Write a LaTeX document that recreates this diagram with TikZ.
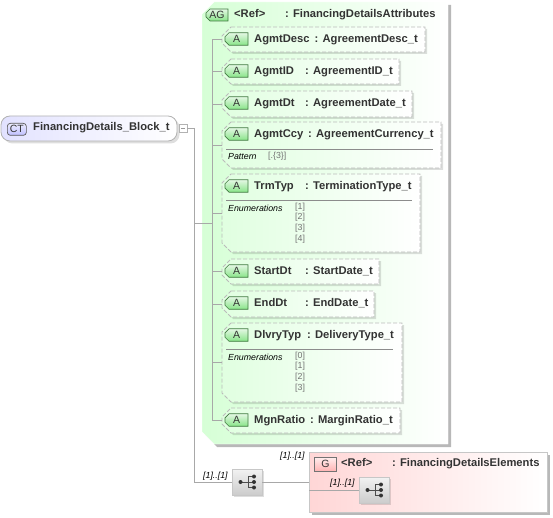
\documentclass[tikz,border=0pt]{standalone}
\usepackage{fontspec}
\setmainfont{Liberation Sans}
\usetikzlibrary{shadows}
\definecolor{txt}{HTML}{333333}
\definecolor{lnk}{HTML}{A8A8A8}
\definecolor{dashc}{HTML}{BBBBBB}
\definecolor{grn}{HTML}{D6FFD6}
\definecolor{bdgA}{HTML}{E4F8E4}
\definecolor{bdgB}{HTML}{88E488}
\definecolor{lav}{HTML}{E2E2FF}
\definecolor{pink}{HTML}{FFD6D6}
\newdimen\lch
\makeatletter
\pgfdeclareshape{lchamfer}{
  \inheritsavedanchors[from=rectangle]
  \inheritanchorborder[from=rectangle]
  \inheritanchor[from=rectangle]{center}
  \inheritanchor[from=rectangle]{text}
  \inheritanchor[from=rectangle]{base}
  \inheritanchor[from=rectangle]{north}
  \inheritanchor[from=rectangle]{south}
  \inheritanchor[from=rectangle]{east}
  \inheritanchor[from=rectangle]{west}
  \inheritanchor[from=rectangle]{north west}
  \inheritanchor[from=rectangle]{north east}
  \inheritanchor[from=rectangle]{south west}
  \inheritanchor[from=rectangle]{south east}
  \backgroundpath{
    \lch=\lchsize\relax
    \southwest \pgf@xa=\pgf@x \pgf@ya=\pgf@y
    \northeast \pgf@xb=\pgf@x \pgf@yb=\pgf@y
    \pgfpathmoveto{\pgfqpoint{\dimexpr\pgf@xa+\lch\relax}{\pgf@yb}}
    \pgfpathlineto{\pgfqpoint{\pgf@xb}{\pgf@yb}}
    \pgfpathlineto{\pgfqpoint{\pgf@xb}{\pgf@ya}}
    \pgfpathlineto{\pgfqpoint{\dimexpr\pgf@xa+\lch\relax}{\pgf@ya}}
    \pgfpathlineto{\pgfqpoint{\pgf@xa}{\dimexpr\pgf@ya+\lch\relax}}
    \pgfpathlineto{\pgfqpoint{\pgf@xa}{\dimexpr\pgf@yb-\lch\relax}}
    \pgfpathclose
  }
}
\makeatother
\def\lchsize{4pt}
\tikzset{
  chamfer size/.store in=\lchsize,
  conn/.style={draw=lnk,line width=.7pt},
  softshadow/.style={general shadow={shadow xshift=#1,shadow yshift=-#1,fill=black,opacity=.28}},
  faintshadow/.style={general shadow={shadow xshift=#1,shadow yshift=-#1,fill=black,opacity=.13}},
  groupbox/.style={lchamfer,chamfer size=12pt,inner sep=0pt,outer sep=0pt,anchor=north west,draw=white,left color=grn,right color=white,softshadow=3pt},
  attrbox/.style={lchamfer,chamfer size=9pt,inner sep=0pt,outer sep=0pt,anchor=north west,draw=dashc,dash pattern=on 4pt off 2pt,line width=.8pt,left color=grn!75!white,right color=white,faintshadow=2pt},
  abadge/.style={lchamfer,chamfer size=4pt,inner sep=0pt,outer sep=0pt,anchor=north west,draw=green!30!black!75,line width=.7pt,top color=bdgA,bottom color=bdgB,minimum width=23pt,minimum height=12.5pt,font=\fontsize{10.5}{10}\selectfont,text=txt},
  seqbox/.style={anchor=north west,rectangle,inner sep=0pt,outer sep=0pt,minimum width=30pt,minimum height=26pt,draw=black!22,top color=black!5,bottom color=black!20,faintshadow=1.5pt},
  nm/.style={anchor=base west,inner sep=0pt,text=txt,font=\fontsize{11.2}{12}\selectfont\bfseries},
  lbl/.style={anchor=west,inner sep=0pt,text=black,font=\fontsize{8.8}{9}\selectfont\itshape},
  val/.style={anchor=west,inner sep=0pt,text=black!55,font=\fontsize{8.8}{9}\selectfont},
  rule/.style={draw=black!45,line width=.6pt},
}
\newcommand{\seqglyph}[1]{%
  \begin{scope}[shift={(#1.center)}]
    \draw[black!70,line width=.8pt] (-7,0) -- (1,0) (1,-5.5) -- (1,5.5) (1,-5.5) -- (7,-5.5) (1,0) -- (7,0) (1,5.5) -- (7,5.5);
    \fill[black!80] (-6.5,0) circle (2pt) (7,-5.5) circle (2pt) (7,0) circle (2pt) (7,5.5) circle (2pt);
  \end{scope}}
\newcommand{\attr}[7]{% id, right, top, bottom, name, colon x, type
  \node[attrbox,minimum width={(#2-222)*1pt},minimum height={(#4-#3)*1pt}] (#1) at (222,#3) {};
  \node[abadge] (#1b) at (225,#3+5.75) {A};
  \node[nm] (#1n) at (254,#3+15.5) {#5};
  \node[nm] (#1t) at (#6,#3+15.5) {: #7};
}
\begin{document}
\begin{tikzpicture}[x=1pt,y=-1pt]
\useasboundingbox (0,0) rectangle (553,518);
% complex type
\node[anchor=north west,rectangle,rounded corners=9pt,minimum width=176pt,minimum height=25pt,inner sep=0pt,outer sep=0pt,draw=black!30,line width=.8pt,left color=lav,right color=white,faintshadow=2.5pt] (ct) at (1,116) {};
\node[anchor=north west,rectangle,rounded corners=3pt,draw=black!65,line width=.7pt,top color=blue!7,bottom color=blue!25,minimum width=19pt,minimum height=12pt,inner sep=0pt,font=\fontsize{10.5}{10}\selectfont,text=txt] (ctb) at (7,123) {CT};
\node[nm] (ctn) at (33,131) {FinancingDetails\_Block\_t};
\node[anchor=north west,draw=black!30,fill=white,minimum width=8pt,minimum height=8pt,inner sep=0pt,outer sep=0pt,line width=.6pt] (minus) at (179,124) {};
\draw[black!40,line width=.6pt] ([xshift=-2pt]minus.center) -- ([xshift=2pt]minus.center);
\coordinate (trunk) at (194,128);
% group
\node[groupbox,minimum width=246pt,minimum height=442pt] (ag) at (202,2) {};
\node[abadge,minimum width=22pt,minimum height=12pt] (agb) at (206,9) {AG};
\node[nm] (agn) at (234,17.3) {<Ref>};
\node[nm] (agt) at (285,17.3) {: FinancingDetailsAttributes};
% attributes
\attr{a1}{425}{27}{52}{AgmtDesc}{314.5}{AgreementDesc\_t}
\attr{a2}{399}{59}{84}{AgmtID}{305}{AgreementID\_t}
\attr{a3}{412}{91}{117}{AgmtDt}{305}{AgreementDate\_t}
\attr{a4}{441}{122}{168}{AgmtCcy}{308}{AgreementCurrency\_t}
\attr{a5}{420}{174}{252}{TrmTyp}{305}{TerminationType\_t}
\attr{a6}{379}{259}{284}{StartDt}{305}{StartDate\_t}
\attr{a7}{374}{291}{317}{EndDt}{305}{EndDate\_t}
\attr{a8}{402}{323}{402}{DlvryTyp}{307}{DeliveryType\_t}
\attr{a9}{400}{408}{433}{MgnRatio}{310}{MarginRatio\_t}
% facets
\draw[rule] (226,149) -- (433,149);
\node[lbl] (p4) at (228,156.5) {Pattern};
\node[val] (v4) at (268,156.5) {[.\{3\}]};
\draw[rule] (226,200) -- (412,200);
\node[lbl] (p5) at (228,208) {Enumerations};
\node[val] (v51) at (295,207.5) {[1]};
\node[val] (v52) at (295,217.5) {[2]};
\node[val] (v53) at (295,228.5) {[3]};
\node[val] (v54) at (295,239.5) {[4]};
\draw[rule] (226,349) -- (393,349);
\node[lbl] (p8) at (228,357) {Enumerations};
\node[val] (v81) at (295,356.5) {[0]};
\node[val] (v82) at (295,366.5) {[1]};
\node[val] (v83) at (295,377) {[2]};
\node[val] (v84) at (295,388) {[3]};
% attribute spine
\coordinate (spine) at (212,223);
\draw[conn] (a1.west) -| (spine) (a9.west) -| (spine);
\foreach \n in {a2,a3,a4,a5,a6,a7,a8} \draw[conn] (\n.west) -- (\n.west -| spine);
% elements group
\node[anchor=north west,rectangle,minimum width=238pt,minimum height=60pt,inner sep=0pt,outer sep=0pt,draw=black!22,left color=pink,right color=white,softshadow=3pt] (g) at (309,452) {};
\node[anchor=north west,rectangle,draw=black!55,line width=.7pt,top color=red!7,bottom color=red!30,minimum width=22pt,minimum height=14pt,inner sep=0pt,font=\fontsize{10.5}{10}\selectfont,text=txt] (gb) at (314,457) {G};
\node[nm] (gn) at (341,466.7) {<Ref>};
\node[nm] (gt) at (392,466.7) {: FinancingDetailsElements};
% sequences
\node[seqbox] (s1) at (232,469) {};
\node[seqbox] (s2) at (359,477) {};
\seqglyph{s1}
\seqglyph{s2}
% connectors
\draw[conn] (minus.east) -- (trunk);
\draw[conn] (trunk) |- (s1.west);
\draw[conn] (trunk |- spine) -- (spine);
\draw[conn] (s1.east) -- (s1.east -| g.west);
\draw[conn] (g.west |- s2.west) -- (s2.west);
% occurrences
\node[lbl] (o1) at (203,476) {[1]..[1]};
\node[lbl] (o2) at (280,456) {[1]..[1]};
\node[lbl] (o3) at (330,483) {[1]..[1]};
\end{tikzpicture}
\end{document}
